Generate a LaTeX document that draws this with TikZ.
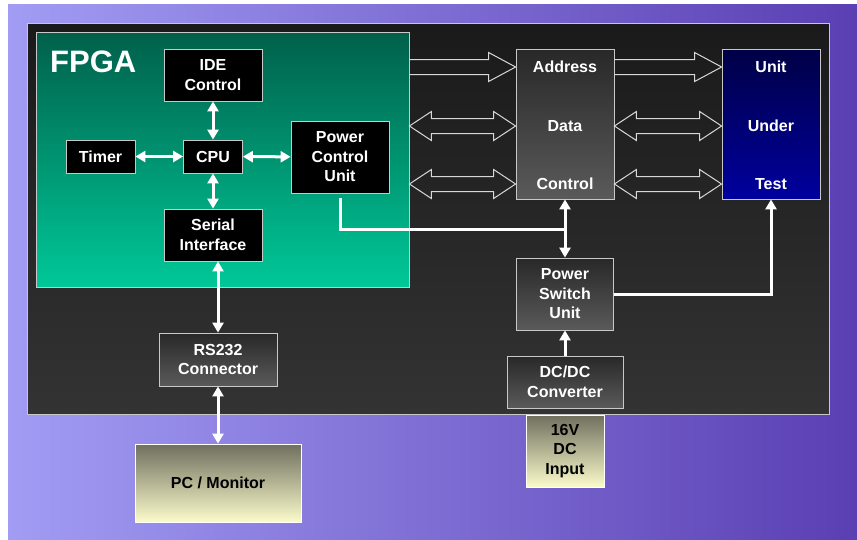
\documentclass[tikz,border=0pt]{standalone}
\usepackage{fontspec}
\setmainfont{Liberation Sans}
\usepackage{xcolor}
\usepackage{tikz}
\usetikzlibrary{arrows.meta,calc}
\definecolor{bgLeft}{HTML}{A29CF4}
\definecolor{bgRight}{HTML}{5A3FB3}
\definecolor{panelTop}{HTML}{1A1A1A}
\definecolor{panelBot}{HTML}{333333}
\definecolor{fpgaTop}{HTML}{00604A}
\definecolor{fpgaBot}{HTML}{00C898}
\definecolor{modTop}{HTML}{282828}
\definecolor{modBot}{HTML}{5A5A5A}
\definecolor{uutTop}{HTML}{000046}
\definecolor{uutBot}{HTML}{00009E}
\definecolor{extTop}{HTML}{6F6F5F}
\definecolor{extBot}{HTML}{FBFBCB}
\definecolor{edge}{HTML}{C8C8C8}
\definecolor{busline}{HTML}{D8D8D8}
\tikzset{
  unit/.style    = {shape=rectangle, draw=edge, line width=0.8pt,
                    align=center, inner sep=0pt, text=white,
                    font=\bfseries\fontsize{16}{19.5}\selectfont},
  chip/.style    = {unit, fill=black},
  module/.style  = {unit, top color=modTop, bottom color=modBot},
  target/.style  = {unit, top color=uutTop, bottom color=uutBot},
  outside/.style = {unit, draw=white, text=black,
                    top color=extTop, bottom color=extBot},
  lbl/.style     = {inner sep=0pt, text=white,
                    font=\bfseries\fontsize{16}{19.5}\selectfont},
  wire/.style    = {draw=white, line width=3pt},
  link/.style    = {wire, {Triangle[length=10pt,width=11pt]}-{Triangle[length=10pt,width=11pt]}},
  feed/.style    = {wire, -{Triangle[length=10pt,width=11pt]}},
  bus/.style     = {draw=busline, line width=1pt, line join=miter}
}
% hollow one-way bus arrow
\newcommand{\busone}[2]{%
  \draw[bus] let \p1 = #1, \p2 = #2 in
    (\x1,\y1+7.5pt) -- (\x2-27pt,\y1+7.5pt) -- (\x2-27pt,\y1+14.5pt) -- (\x2,\y1)
    -- (\x2-27pt,\y1-14.5pt) -- (\x2-27pt,\y1-7.5pt) -- (\x1,\y1-7.5pt);}
% hollow two-way bus arrow
\newcommand{\bustwo}[2]{%
  \draw[bus] let \p1 = #1, \p2 = #2 in
    (\x1,\y1) -- (\x1+22pt,\y1+14.5pt) -- (\x1+22pt,\y1+7.5pt) -- (\x2-22pt,\y1+7.5pt)
    -- (\x2-22pt,\y1+14.5pt) -- (\x2,\y1) -- (\x2-22pt,\y1-14.5pt) -- (\x2-22pt,\y1-7.5pt)
    -- (\x1+22pt,\y1-7.5pt) -- (\x1+22pt,\y1-14.5pt) -- cycle;}

\begin{document}
\begin{tikzpicture}[x=1pt, y=-1pt]
  % page and backdrop
  \fill[white] (0,0) rectangle (857,539);
  \useasboundingbox (0,0) rectangle (857,539);
  \fill[left color=bgLeft, right color=bgRight] (8,4) rectangle (857,539);
  \node[draw=edge, line width=0.8pt, top color=panelTop, bottom color=panelBot,
        minimum width=802pt, minimum height=391pt] (board) at (428,218.5) {};
  \node[draw=edge, line width=0.8pt, top color=fpgaTop, bottom color=fpgaBot,
        minimum width=373pt, minimum height=255pt] (fpga) at (222.5,159.5) {};
  \node[anchor=base west, inner sep=0pt, text=white,
        font=\bfseries\fontsize{31}{31}\selectfont] (fpganame) at (50,72) {FPGA};

  % inside the FPGA
  \node[chip, minimum width=98pt, minimum height=52pt] (ide)    at (213,75)    {IDE\\Control};
  \node[chip, minimum width=69pt, minimum height=33pt] (timer)  at (100.5,156.5) {Timer};
  \node[chip, minimum width=59pt, minimum height=33pt] (cpu)    at (213,156.5) {CPU};
  \node[chip, minimum width=98pt, minimum height=72pt] (pcu)    at (340,157)   {Power\\Control\\Unit};
  \node[chip, minimum width=98pt, minimum height=52pt] (serial) at (213,235)   {Serial\\Interface};

  % board parts
  \node[module, minimum width=98pt, minimum height=150pt] (adc)  at (565,124) {};
  \node[lbl] (adr)  at (565,67)  {Address};
  \node[lbl] (dat)  at (565,126) {Data};
  \node[lbl] (ctl)  at (565,184) {Control};
  \node[target, minimum width=98pt, minimum height=150pt] (uut) at (771,124) {};
  \node[lbl] (uut1) at (771,67)  {Unit};
  \node[lbl] (uut2) at (771,126) {Under};
  \node[lbl] (uut3) at (771,184) {Test};
  \node[module, minimum width=97pt, minimum height=72pt]  (psu)   at (565,294)   {Power\\Switch\\Unit};
  \node[module, minimum width=116pt, minimum height=52pt] (dcdc)  at (565,382)   {DC/DC\\Converter};
  \node[module, minimum width=118pt, minimum height=53pt] (rs232) at (218,359.5) {RS232\\Connector};

  % outside the board
  \node[outside, minimum width=166pt, minimum height=78pt] (pc)  at (218,483) {PC / Monitor};
  \node[outside, minimum width=78pt, minimum height=72pt]  (vin) at (565,451) {16V\\DC\\Input};

  % buses
  \busone{(fpga.east |- adr)}{(adc.west |- adr)}
  \bustwo{(fpga.east |- dat)}{(adc.west |- dat)}
  \bustwo{(fpga.east |- ctl)}{(adc.west |- ctl)}
  \busone{(adc.east |- uut1)}{(uut.west |- uut1)}
  \bustwo{(adc.east |- uut2)}{(uut.west |- uut2)}
  \bustwo{(adc.east |- uut3)}{(uut.west |- uut3)}

  % links
  \draw[link] (ide) -- (cpu);
  \draw[link] (timer) -- (cpu);
  \draw[link] (cpu) -- (pcu);
  \draw[link] (cpu) -- (serial);
  \draw[link] (serial.south -| rs232.north) -- (rs232.north);
  \draw[link] (rs232.south) -- (pc.north);
  \coordinate (tap) at (565,229);
  \draw[wire] ([yshift=-5pt]pcu.south) |- (tap);
  \draw[link] (adc.south) -- (psu.north);
  \draw[feed] (dcdc.north) -- (psu.south);
  \draw[feed] (psu.east) -| (uut.south);
\end{tikzpicture}
\end{document}
